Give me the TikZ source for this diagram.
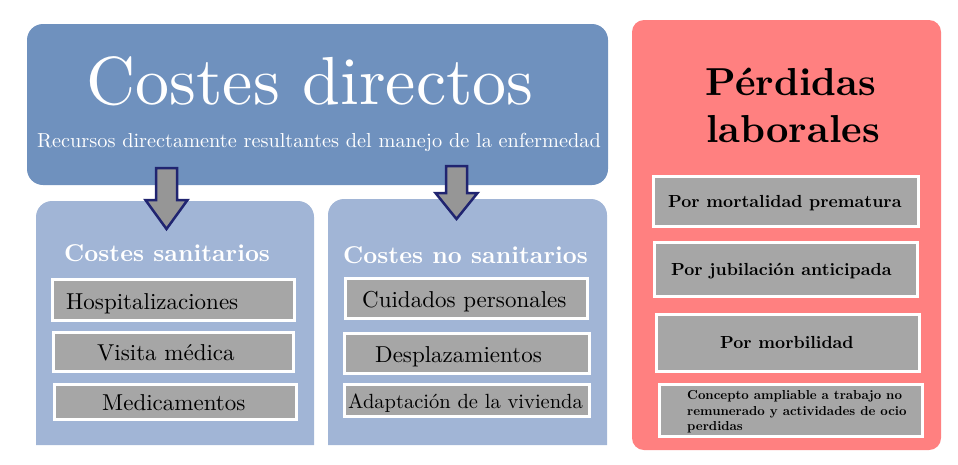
\documentclass[tikz,border=0pt]{standalone}
\usepackage{fontspec}
\setmainfont{lmroman10-regular.otf}[BoldFont=lmroman10-bold.otf]
\usetikzlibrary{positioning}
\definecolor{topblue}{RGB}{111,145,190}
\definecolor{subblue}{RGB}{161,181,214}
\definecolor{lossred}{RGB}{255,128,128}
\definecolor{itemgray}{RGB}{166,166,166}
\definecolor{arrowgray}{RGB}{150,150,150}
\definecolor{arrownavy}{RGB}{32,36,112}

\begin{document}
\begin{tikzpicture}[x=1pt,y=-1pt,
    item/.style={fill=itemgray,draw=white,line width=3pt},
    itemtext/.style={anchor=base west,inner sep=0pt,font=\fontsize{23}{27}\selectfont},
    losstext/.style={anchor=base west,inner sep=0pt,font=\bfseries\fontsize{17.5}{21}\selectfont},
    headtext/.style={anchor=base west,inner sep=0pt,text=white,font=\bfseries\fontsize{24.3}{29}\selectfont},
    downarrow/.style={fill=arrowgray,draw=arrownavy,line width=2.5pt,line join=miter}]
    \useasboundingbox (0,0) rectangle (958,464);
    % big boxes
    \fill [topblue,rounded corners=16] (27,24) rectangle (608,185);
    \fill [subblue] (36,445) [rounded corners=16] -- (36,201) -- (314,201) [sharp corners] -- (314,445) -- cycle;
    \fill [subblue] (328,445) [rounded corners=16] -- (328,199) -- (607,199) [sharp corners] -- (607,445) -- cycle;
    \fill [lossred,rounded corners=12] (632,20) rectangle (941,450);
    % arrows
    \foreach \cx/\ty/\hy/\tip in {166.5/168/200/229, 456.5/166/193/219}
    \draw [downarrow] (\cx-10.5,\ty) -- (\cx+10.5,\ty) -- (\cx+10.5,\hy) -- (\cx+21,\hy)
        -- (\cx,\tip) -- (\cx-21,\hy) -- (\cx-10.5,\hy) -- cycle;
    % item boxes
    \foreach \xa/\ya/\xb/\yb in {52.5/279.5/294.5/320.5, 53.5/332.5/293.5/371.5, 54.5/384.5/296.5/419.5,
        345.5/278.5/587.5/318.5, 344.5/333.5/589.5/373.5, 344.5/384.5/589.5/416.5,
        653.5/176.5/918.5/226.5, 654.5/242.5/917.5/296.5, 656.5/314.5/919.5/371.5, 659.5/384.5/922.5/436.5}
    \draw [item] (\xa,\ya) rectangle (\xb,\yb);
    % titles
    \node [anchor=base,inner sep=0pt,text=white,font=\fontsize{68}{68}\selectfont] (directos) at (310,104) {Costes directos};
    \node [anchor=base west,inner sep=0pt,text=white,font=\fontsize{20.3}{24}\selectfont] (recursos) at (37,147)
        {Recursos directamente resultantes del manejo de la enfermedad};
    \node [headtext] (sanitarios) at (64,261) {Costes sanitarios};
    \node [headtext] (nosanitarios) at (343,263) {Costes no sanitarios};
    \node [anchor=base,inner sep=0pt,font=\bfseries\fontsize{39}{47}\selectfont] (perdidas) at (791,95) {Pérdidas};
    \node [anchor=base,inner sep=0pt,font=\bfseries\fontsize{39}{47}\selectfont] (laborales) at (793,142) {laborales};
    % items
    \node [itemtext] (hosp) at (66,309) {Hospitalizaciones};
    \node [itemtext] (visita) at (97,360) {Visita médica};
    \node [itemtext] (medic) at (102,410) {Medicamentos};
    \node [itemtext] (cuidados) at (362,307) {Cuidados personales};
    \node [itemtext] (despl) at (375,362) {Desplazamientos};
    \node [itemtext,font=\fontsize{20.5}{24}\selectfont] (vivienda) at (348,408) {Adaptación de la vivienda};
    \node [losstext] (mortal) at (668,207) {Por mortalidad prematura};
    \node [losstext] (jubil) at (671,275) {Por jubilación anticipada};
    \node [losstext] (morbil) at (720,348) {Por morbilidad};
    \node [losstext,font=\bfseries\fontsize{13}{15.5}\selectfont] (concepto1) at (687,399) {Concepto ampliable a trabajo no};
    \node [losstext,font=\bfseries\fontsize{13}{15.5}\selectfont] (concepto2) at (687,415) {remunerado y actividades de ocio};
    \node [losstext,font=\bfseries\fontsize{13}{15.5}\selectfont] (concepto3) at (687,430) {perdidas};
\end{tikzpicture}
\end{document}
